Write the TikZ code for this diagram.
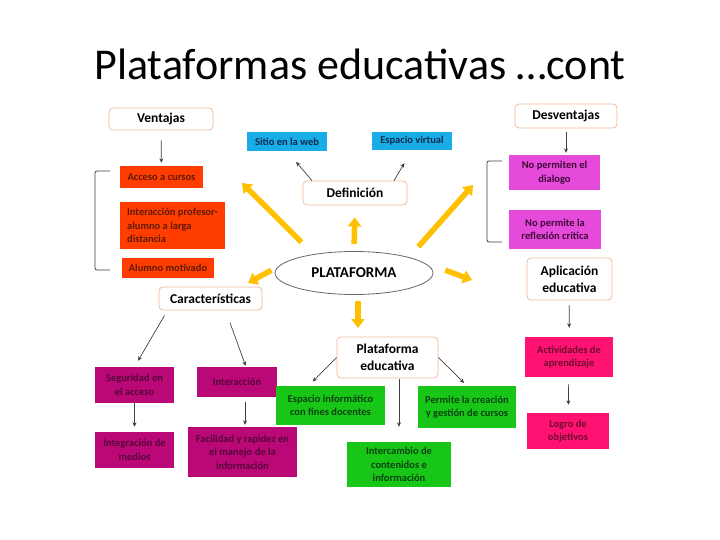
\documentclass[tikz,border=0pt]{standalone}
\usepackage{fontspec}
\setmainfont{Carlito}
\usepackage{xcolor}
\usetikzlibrary{shapes.geometric, arrows.meta}

\definecolor{hdrline}{HTML}{F0BC9C}
\definecolor{redfill}{HTML}{FF3D00}
\definecolor{redtext}{HTML}{5E1A08}
\definecolor{cyanfill}{HTML}{19ADE8}
\definecolor{cyantext}{HTML}{0C2A4E}
\definecolor{plumfill}{HTML}{BA0877}
\definecolor{plumtext}{HTML}{55063A}
\definecolor{orchidfill}{HTML}{E64ADB}
\definecolor{orchidtext}{HTML}{3F0838}
\definecolor{rosefill}{HTML}{FF1271}
\definecolor{rosetext}{HTML}{6E0C2E}
\definecolor{greenfill}{HTML}{18C618}
\definecolor{greentext}{HTML}{0A4210}
\definecolor{gold}{HTML}{FFC000}
\definecolor{linegray}{HTML}{404040}

\begin{document}
\begin{tikzpicture}[
    x=1pt, y=-1pt,
    header/.style={rectangle, draw=hdrline, line width=0.8pt, fill=white, rounded corners=4pt, inner sep=0pt, align=center, font=\bfseries\fontsize{13.5}{17}\selectfont},
    card/.style={rectangle, inner sep=0pt, align=center, font=\bfseries\fontsize{10.5}{13.5}\selectfont},
    redcard/.style={card, fill=redfill, text=redtext},
    cyancard/.style={card, fill=cyanfill, text=cyantext},
    plumcard/.style={card, fill=plumfill, text=plumtext},
    orchidcard/.style={card, fill=orchidfill, text=orchidtext},
    rosecard/.style={card, fill=rosefill, text=rosetext},
    greencard/.style={card, fill=greenfill, text=greentext},
    arrow/.style={draw=linegray, line width=0.7pt, -{Stealth[length=4.5pt,width=4pt]}},
    bigarrow/.style={draw=gold, line width=5.5pt, -{Triangle[length=9pt,width=13pt]}},
    bracket/.style={draw=linegray, line width=0.8pt, rounded corners=2pt}
]
    \useasboundingbox (0,0) rectangle (720,540);
    \fill[white] (0,0) rectangle (720,540);

    \node (title) [anchor=base, font=\fontsize{44}{50}\selectfont] at (360,80) {Plataformas educativas …cont};

    % Ventajas
    \node (ventajas) [header, minimum width=104pt, minimum height=22pt] at (161,119) {Ventajas};
    \node (acceso) [redcard, minimum width=83pt, minimum height=22pt] at (161.5,177) {Acceso a cursos};
    \node (interprof) [redcard, align=left, minimum width=105pt, minimum height=47pt] at (172.5,225.5) {Interacción profesor-\\alumno a larga\\distancia};
    \node (alumno) [redcard, minimum width=92pt, minimum height=20pt] at (168,268) {Alumno motivado};
    \draw[bracket] (110,171) -- (95,171) -- (95,270) -- (110,270);

    % Definicion
    \node (sitio) [cyancard, minimum width=80pt, minimum height=19pt] at (287,141.5) {Sitio en la web};
    \node (espvirt) [cyancard, minimum width=80pt, minimum height=18pt] at (412,141) {Espacio virtual};
    \node (defin) [header, minimum width=104pt, minimum height=24pt] at (355,193) {Definición};

    % Desventajas
    \node (desv) [header, minimum width=102pt, minimum height=24pt] at (566,116) {Desventajas};
    \node (nodialogo) [orchidcard, minimum width=91pt, minimum height=35pt] at (554.5,172.5) {No permiten el\\dialogo};
    \node (noreflex) [orchidcard, minimum width=92pt, minimum height=38pt] at (555,229.5) {No permite la\\reflexión crítica};
    \draw[bracket] (502,161) -- (487,161) -- (487,242) -- (502,242);

    % Aplicacion educativa
    \node (aplic) [header, minimum width=85pt, minimum height=42pt] at (569.5,279) {Aplicación\\educativa};
    \node (activ) [rosecard, minimum width=88pt, minimum height=40pt] at (569,357) {Actividades de\\aprendizaje};
    \node (logro) [rosecard, minimum width=82pt, minimum height=36pt] at (568,431) {Logro de\\objetivos};

    % Caracteristicas
    \node (caract) [header, minimum width=103pt, minimum height=23pt] at (210.5,298.5) {Características};
    \node (segur) [plumcard, minimum width=79pt, minimum height=36pt] at (134.5,385) {Seguridad en\\el acceso};
    \node (interac) [plumcard, minimum width=80pt, minimum height=30pt] at (237,382) {Interacción};
    \node (integ) [plumcard, minimum width=79pt, minimum height=36pt] at (134.5,450) {Integración de\\medios};
    \node (facil) [plumcard, minimum width=109pt, minimum height=50pt] at (242.5,452) {Facilidad y rapidez en\\el manejo de la\\información};

    % Plataforma educativa
    \node (pedu) [header, minimum width=101pt, minimum height=41pt] at (387.5,357.5) {Plataforma\\educativa};
    \node (espinf) [greencard, minimum width=109pt, minimum height=39pt] at (330.5,405.5) {Espacio informático\\con fines docentes};
    \node (permite) [greencard, minimum width=98pt, minimum height=42pt] at (467,407) {Permite la creación\\y gestión de cursos};
    \node (intercam) [greencard, minimum width=104pt, minimum height=45pt] at (399,464.5) {Intercambio de\\contenidos e\\información};

    % centre
    \node (plat) [ellipse, draw=black!60, fill=white, line width=0.8pt, minimum width=158pt, minimum height=43pt, inner sep=0pt, font=\bfseries\fontsize{15}{18}\selectfont] at (354,273) {PLATAFORMA};

    \coordinate (tipVent) at (242,183);
    \coordinate (tipDesv) at (473,185);
    \coordinate (tipCar) at (248,283);
    \coordinate (tipApl) at (472,280);
    \coordinate (tipPedu) at (358,328);

    \draw[bigarrow, shorten <=17pt] (plat.155) -- (tipVent);
    \draw[bigarrow, shorten <=7pt, shorten >=12pt] (plat.north) -- (defin.south);
    \draw[bigarrow, shorten <=14pt] (plat.16) -- (tipDesv);
    \draw[bigarrow, shorten <=8pt] (plat.175) -- (tipCar);
    \draw[bigarrow, shorten <=26pt] (plat.10) -- (tipApl);
    \draw[bigarrow, shorten <=6pt] (plat.south -| tipPedu) -- (tipPedu);

    \draw[arrow, shorten <=10pt, shorten >=3pt] (ventajas) -- (acceso);
    \draw[arrow, shorten >=14pt] ([xshift=-43pt]defin.north) -- (sitio.south);
    \draw[arrow, shorten >=15pt] ([xshift=39pt]defin.north) -- (espvirt.south);
    \draw[arrow, shorten <=4pt, shorten >=2pt] (desv.south) -- (desv.south |- nodialogo.north);
    \draw[arrow, shorten <=5pt, shorten >=9pt] (aplic) -- (activ);
    \draw[arrow, shorten <=7pt, shorten >=8pt] (activ) -- (logro);
    \draw[arrow, shorten <=6pt, shorten >=7pt] ([xshift=-43pt]caract.south) -- (segur.north);
    \draw[arrow, shorten <=13pt, shorten >=1pt] ([xshift=15pt]caract.south) -- ([xshift=9pt]interac.north);
    \draw[arrow, shorten >=5pt] (segur) -- (integ);
    \draw[arrow, shorten <=5pt, shorten >=2pt] ([xshift=8pt]interac.south) -- ([xshift=8pt]interac.south |- facil.north);
    \draw[arrow, shorten >=6pt] (pedu.west) -- ([xshift=-22pt]espinf.north);
    \draw[arrow, shorten >=4pt] (pedu.east) -- (permite.north);
    \draw[arrow, shorten <=1pt, shorten >=15pt] (pedu.south -| intercam.north) -- (intercam.north);
\end{tikzpicture}
\end{document}
